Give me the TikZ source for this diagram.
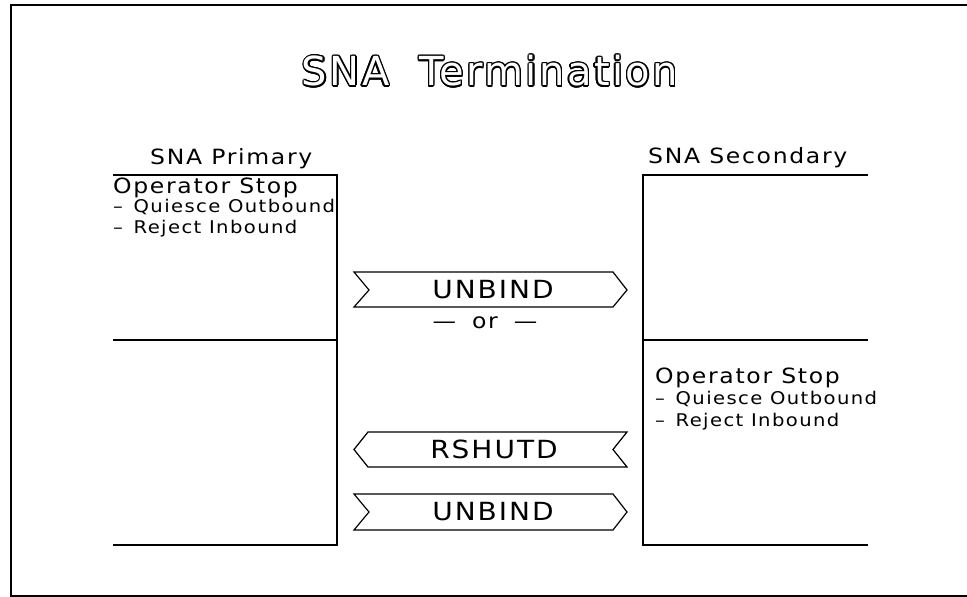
\documentclass[tikz,border=0pt]{standalone}
\usepackage{fontspec}
\setmainfont{DejaVu Sans}
\newfontfamily\lblfont[LetterSpace=8,FakeStretch=1.12]{DejaVu Sans}
\newfontfamily\ttlfont[LetterSpace=6]{DejaVu Sans}
\tikzset{
  lbl/.style={font=\lblfont\fontsize{21}{24}\selectfont, anchor=base west, inner sep=0pt},
  smalllbl/.style={font=\lblfont\fontsize{17.5}{20}\selectfont, anchor=base west, inner sep=0pt},
  msg/.style={font=\lblfont\fontsize{25}{28}\selectfont, inner sep=0pt},
  ttl/.style={font=\ttlfont\fontsize{40}{44}\selectfont, inner sep=0pt},
  framerule/.style={line width=2pt},
  boxrule/.style={line width=1.4pt},
  arrowbox/.style={line width=1.2pt, line join=miter},
}
\begin{document}
\begin{tikzpicture}[x=1pt,y=-1pt]
\useasboundingbox (0,0) rectangle (967,597);
% frame
\draw[framerule] (967,5) -- (11,5) -- (11,596) -- (967,596);
% title (outlined)
\foreach \a in {0,22.5,...,337.5}
  \node[ttl, text=black, shift={(\a:1.3)}] at (490,71) {SNA\hspace{30pt}Termination};
\node[ttl, text=white] (title) at (490,71) {SNA\hspace{30pt}Termination};
% left (primary) column
\node[lbl] (prim) at (150,164) {SNA Primary};
\draw[boxrule] (113,175) -- (337,175) -- (337,545) -- (113,545);
\draw[boxrule] (113,340) -- (337,340);
\node[lbl] (pstop) at (113,193) {Operator Stop};
\node[smalllbl] (pq) at (113,212) {–\hspace{3pt} Quiesce Outbound};
\node[smalllbl] (pr) at (113,233) {–\hspace{3pt} Reject Inbound};
% right (secondary) column
\node[lbl] (sec) at (648,163) {SNA Secondary};
\draw[boxrule] (868,175) -- (643,175) -- (643,545) -- (868,545);
\draw[boxrule] (643,340) -- (868,340);
\node[lbl] (sstop) at (655,383) {Operator Stop};
\node[smalllbl] (sq) at (655,404) {–\hspace{3pt} Quiesce Outbound};
\node[smalllbl] (sr) at (655,426) {–\hspace{3pt} Reject Inbound};
% messages
\draw[arrowbox] (354,272) -- (613,272) -- (627,290) -- (613,307) -- (354,307) -- (369,290) -- cycle;
\node[msg] (unbind1) at (493,290) {UNBIND};
\node[lbl, anchor=base] (or) at (485,328) {—\hspace{16pt}or\hspace{16pt}—};
\draw[arrowbox] (368,432) -- (627,432) -- (613,449.5) -- (627,467) -- (368,467) -- (354,449.5) -- cycle;
\node[msg] (rshutd) at (494,449.5) {RSHUTD};
\draw[arrowbox] (354,494) -- (613,494) -- (627,512) -- (613,530) -- (354,530) -- (369,512) -- cycle;
\node[msg] (unbind2) at (493,512) {UNBIND};
\end{tikzpicture}
\end{document}
